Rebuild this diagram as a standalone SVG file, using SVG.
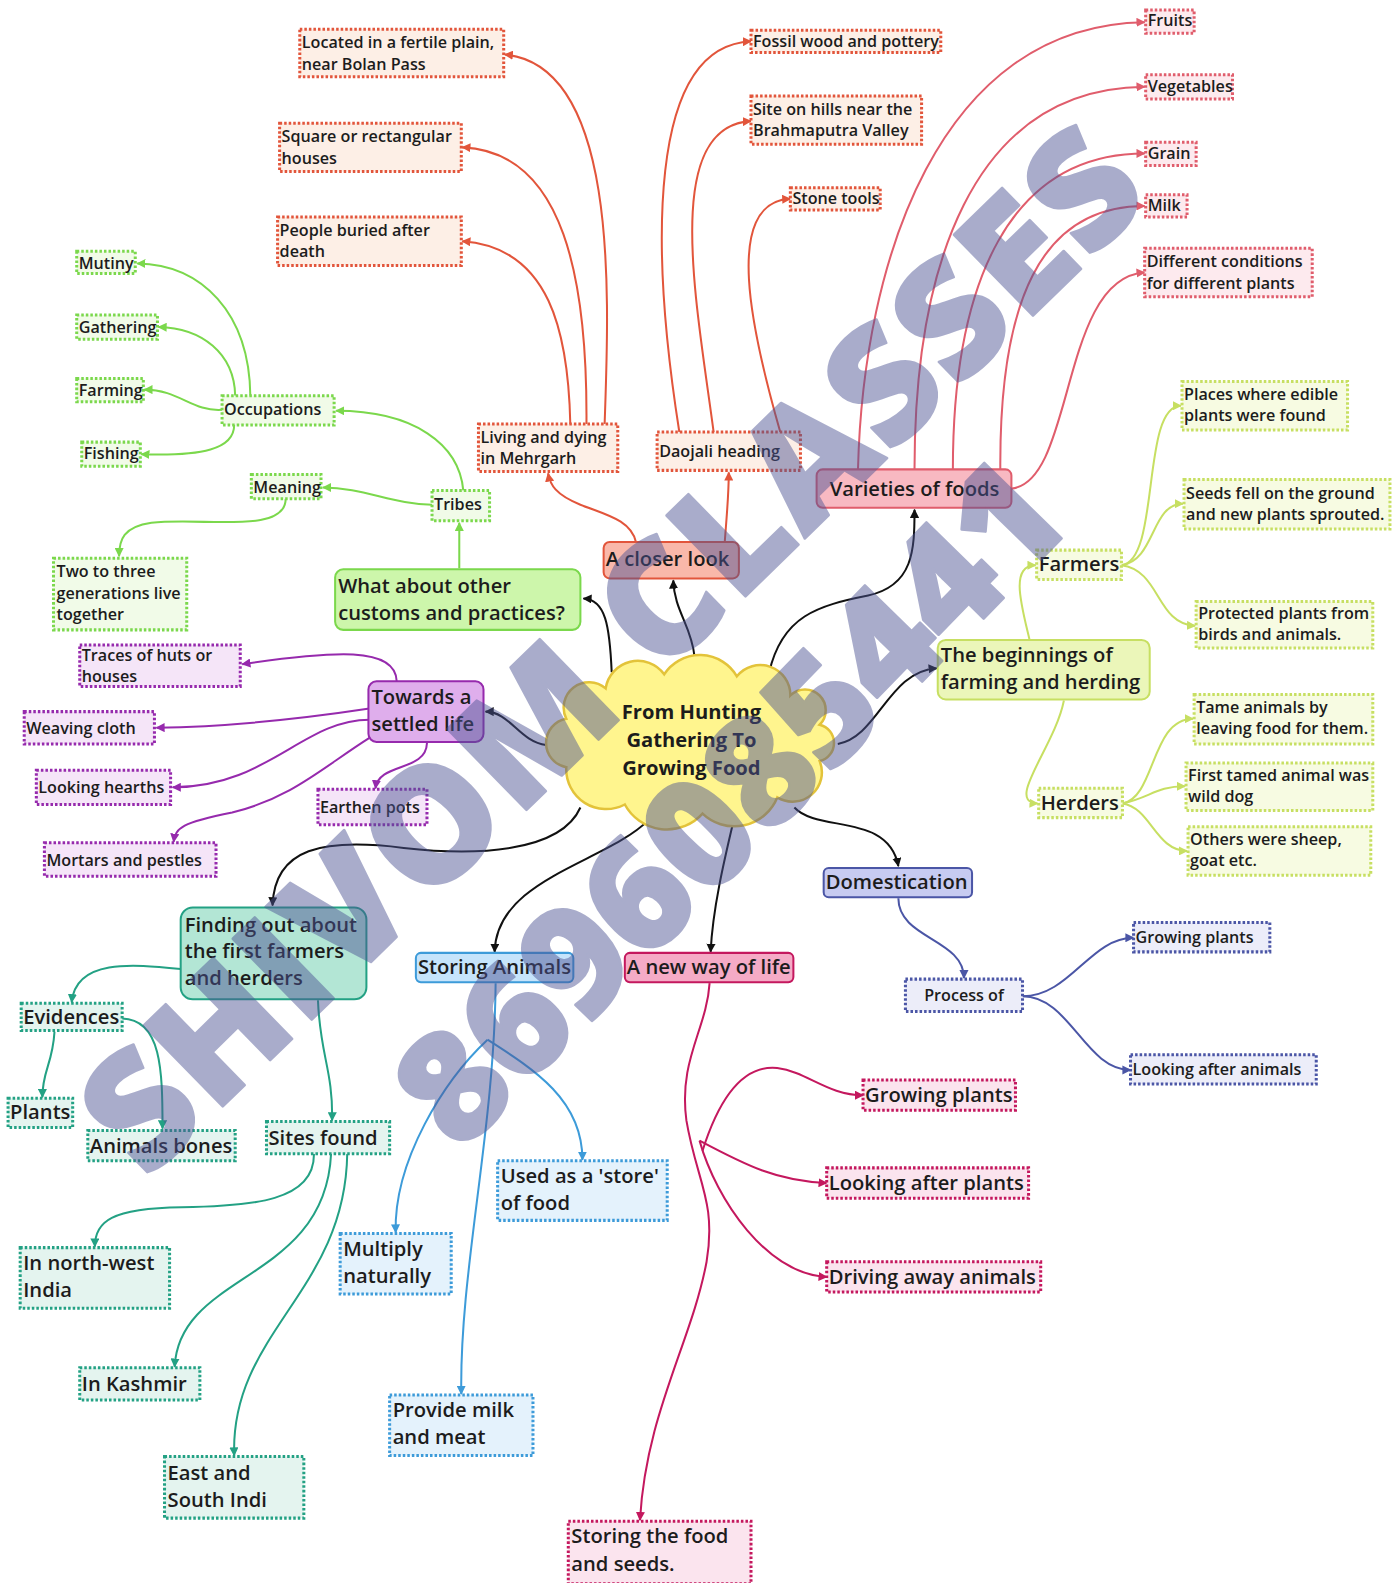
<svg xmlns="http://www.w3.org/2000/svg" width="1399" height="1583" viewBox="0 0 1399 1583">
<defs>
<style>
text{font-family:"Open Sans","Noto Sans","Liberation Sans",sans-serif;font-weight:600;fill:#1c1c1c}
.s16{font-size:16px}
.s20{font-size:20px}
.c{text-anchor:middle}
.lf rect{stroke-width:3;stroke-dasharray:2.5 2}
.l1 rect{stroke-width:2}
.R rect{fill:#fdefe6;stroke:#e2553b}
.P rect{fill:#fdeaee;stroke:#e05d6c}
.G rect{fill:#f1fbe8;stroke:#7bd84c}
.Y rect{fill:#f7fbe2;stroke:#c7df62}
.U rect{fill:#f5e5f8;stroke:#962aad}
.T rect{fill:#e4f4ef;stroke:#23a184}
.B rect{fill:#e4f2fc;stroke:#3d9bd9}
.M rect{fill:#fbe4ee;stroke:#c4185e}
.N rect{fill:#ecedf9;stroke:#4b56a6}
#conn path{fill:none;stroke-width:2}
.k{stroke:#111}
.r{stroke:#e2553b}
.p{stroke:#e05d6c}
.g{stroke:#7bd84c}
.y{stroke:#c7df62}
.u{stroke:#962aad}
.t{stroke:#23a184}
.b{stroke:#3d9bd9}
.m{stroke:#c4185e}
.n{stroke:#4b56a6}
#watermark{opacity:0.48}
.wm{font-family:"Open Sans","Liberation Sans",Arial,sans-serif;font-weight:800;fill:#4d5494;stroke:#4d5494;stroke-width:2.5;stroke-linejoin:round}
</style>
<marker id="ak" viewBox="0 0 10 10" refX="9" refY="5" markerWidth="9" markerHeight="9" markerUnits="userSpaceOnUse" orient="auto"><path d="M0,0L10,5L0,10z" fill="#111"/></marker>
<marker id="ar" viewBox="0 0 10 10" refX="9" refY="5" markerWidth="9" markerHeight="9" markerUnits="userSpaceOnUse" orient="auto"><path d="M0,0L10,5L0,10z" fill="#e2553b"/></marker>
<marker id="ap" viewBox="0 0 10 10" refX="9" refY="5" markerWidth="9" markerHeight="9" markerUnits="userSpaceOnUse" orient="auto"><path d="M0,0L10,5L0,10z" fill="#e05d6c"/></marker>
<marker id="ag" viewBox="0 0 10 10" refX="9" refY="5" markerWidth="9" markerHeight="9" markerUnits="userSpaceOnUse" orient="auto"><path d="M0,0L10,5L0,10z" fill="#7bd84c"/></marker>
<marker id="ay" viewBox="0 0 10 10" refX="9" refY="5" markerWidth="9" markerHeight="9" markerUnits="userSpaceOnUse" orient="auto"><path d="M0,0L10,5L0,10z" fill="#c7df62"/></marker>
<marker id="au" viewBox="0 0 10 10" refX="9" refY="5" markerWidth="9" markerHeight="9" markerUnits="userSpaceOnUse" orient="auto"><path d="M0,0L10,5L0,10z" fill="#962aad"/></marker>
<marker id="at" viewBox="0 0 10 10" refX="9" refY="5" markerWidth="9" markerHeight="9" markerUnits="userSpaceOnUse" orient="auto"><path d="M0,0L10,5L0,10z" fill="#23a184"/></marker>
<marker id="ab" viewBox="0 0 10 10" refX="9" refY="5" markerWidth="9" markerHeight="9" markerUnits="userSpaceOnUse" orient="auto"><path d="M0,0L10,5L0,10z" fill="#3d9bd9"/></marker>
<marker id="am" viewBox="0 0 10 10" refX="9" refY="5" markerWidth="9" markerHeight="9" markerUnits="userSpaceOnUse" orient="auto"><path d="M0,0L10,5L0,10z" fill="#c4185e"/></marker>
<marker id="an" viewBox="0 0 10 10" refX="9" refY="5" markerWidth="9" markerHeight="9" markerUnits="userSpaceOnUse" orient="auto"><path d="M0,0L10,5L0,10z" fill="#4b56a6"/></marker>
</defs>
<rect width="1399" height="1583" fill="#fff"/>
<g transform="scale(1.0094)">
<g id="conn">
<path class="k" marker-end="url(#ak)" d="M606,666 C604,620 600,594 578,593"/>
<path class="k" marker-end="url(#ak)" d="M688,650 C685,620 668,605 667,575"/>
<path class="k" marker-end="url(#ak)" d="M762,666 C775,610 810,600 860,590 C905,580 906,545 906,505"/>
<path class="k" marker-end="url(#ak)" d="M830,737 C870,730 880,665 928,662"/>
<path class="k" marker-end="url(#ak)" d="M541,738 C515,735 505,705 481,705"/>
<path class="k" marker-end="url(#ak)" d="M575,800 C555,845 470,848 400,840 C320,830 272,840 270,897"/>
<path class="k" marker-end="url(#ak)" d="M643,812 C600,855 492,870 490,943"/>
<path class="k" marker-end="url(#ak)" d="M727,812 C718,850 706,900 704,943"/>
<path class="k" marker-end="url(#ak)" d="M787,800 C810,825 880,805 890,858"/>
<path class="r" marker-end="url(#ar)" d="M630,537 C625,515 600,510 575,500 C550,490 545,480 543,469"/>
<path class="r" marker-end="url(#ar)" d="M718,537 C720,510 722,490 722,468"/>
<path class="r" marker-end="url(#ar)" d="M599,420 C603,300 615,65 500,54"/>
<path class="r" marker-end="url(#ar)" d="M581,420 C582,280 560,150 458,146"/>
<path class="r" marker-end="url(#ar)" d="M565,420 C563,330 545,245 458,239"/>
<path class="r" marker-end="url(#ar)" d="M673,428 C645,250 640,45 744,41"/>
<path class="r" marker-end="url(#ar)" d="M707,428 C690,300 655,125 744,120"/>
<path class="r" marker-end="url(#ar)" d="M773,428 C745,330 715,200 783,197"/>
<path class="p" marker-end="url(#ap)" d="M850,465 C855,260 930,25 1134,22"/>
<path class="p" marker-end="url(#ap)" d="M906,465 C906,270 960,88 1134,86"/>
<path class="p" marker-end="url(#ap)" d="M944,465 C944,280 1000,152 1134,152"/>
<path class="p" marker-end="url(#ap)" d="M991,465 C990,300 1030,204 1134,204"/>
<path class="p" marker-end="url(#ap)" d="M1002,484 C1065,478 1050,275 1134,270"/>
<path class="g" marker-end="url(#ag)" d="M455,563 L455,518"/>
<path class="g" marker-end="url(#ag)" d="M459,486 C455,440 410,407 333,407"/>
<path class="g" marker-end="url(#ag)" d="M428,500 C390,500 360,483 320,483"/>
<path class="g" marker-end="url(#ag)" d="M283,494 C283,530 200,512 150,518 C122,522 118,535 118,551"/>
<path class="g" marker-end="url(#ag)" d="M248,392 C247,310 200,262 136,261"/>
<path class="g" marker-end="url(#ag)" d="M233,392 C232,350 200,325 157,324"/>
<path class="g" marker-end="url(#ag)" d="M220,406 C190,408 178,386 143,386"/>
<path class="g" marker-end="url(#ag)" d="M232,421 C232,445 200,452 140,450"/>
<path class="u" marker-end="url(#au)" d="M393,675 C392,640 330,645 240,658"/>
<path class="u" marker-end="url(#au)" d="M366,702 C300,712 220,720 155,721"/>
<path class="u" marker-end="url(#au)" d="M366,713 C300,713 265,780 171,780"/>
<path class="u" marker-end="url(#au)" d="M366,731 C320,760 290,790 230,805 C180,815 174,820 172,834"/>
<path class="u" marker-end="url(#au)" d="M423,736 C422,765 375,755 372,781"/>
<path class="y" marker-end="url(#ay)" d="M1020,634 C1012,600 1000,560 1026,560"/>
<path class="y" marker-end="url(#ay)" d="M1054,694 C1045,740 995,795 1028,796"/>
<path class="y" marker-end="url(#ay)" d="M1111,560 C1150,555 1130,402 1170,402"/>
<path class="y" marker-end="url(#ay)" d="M1111,560 C1145,555 1140,499 1172,499"/>
<path class="y" marker-end="url(#ay)" d="M1111,560 C1150,565 1145,618 1184,620"/>
<path class="y" marker-end="url(#ay)" d="M1112,796 C1145,790 1140,712 1182,712"/>
<path class="y" marker-end="url(#ay)" d="M1112,796 C1140,790 1145,779 1174,779"/>
<path class="y" marker-end="url(#ay)" d="M1112,796 C1140,800 1145,843 1176,843"/>
<path class="t" marker-end="url(#at)" d="M179,960 C130,955 75,950 71,993"/>
<path class="t" marker-end="url(#at)" d="M315,991 C317,1045 330,1060 329,1110"/>
<path class="t" marker-end="url(#at)" d="M54,1022 C52,1055 42,1060 42,1087"/>
<path class="t" marker-end="url(#at)" d="M121,1009 C160,1010 161,1060 161,1118"/>
<path class="t" marker-end="url(#at)" d="M311,1143 C312,1190 250,1195 180,1196 C110,1197 94,1210 94,1235"/>
<path class="t" marker-end="url(#at)" d="M328,1143 C322,1270 178,1260 173,1354"/>
<path class="t" marker-end="url(#at)" d="M344,1143 C342,1280 228,1320 232,1442"/>
<path class="b" marker-end="url(#ab)" d="M491,974 C490,1120 455,1260 457,1381"/>
<path class="b" marker-end="url(#ab)" d="M483,1030 C440,1070 390,1150 392,1221"/>
<path class="b" marker-end="url(#ab)" d="M483,1030 C530,1060 577,1090 577,1149"/>
<path class="m" marker-end="url(#am)" d="M703,974 C700,1020 672,1050 680,1110 C690,1170 710,1190 700,1250 C685,1330 640,1400 634,1506"/>
<path class="m" marker-end="url(#am)" d="M696,1140 C715,1080 740,1055 770,1058 C800,1062 820,1085 855,1085"/>
<path class="m" marker-end="url(#am)" d="M693,1130 C740,1155 770,1170 819,1172"/>
<path class="m" marker-end="url(#am)" d="M693,1130 C710,1190 760,1262 819,1265"/>
<path class="n" marker-end="url(#an)" d="M890,890 C890,930 955,930 955,969"/>
<path class="n" marker-end="url(#an)" d="M1013,987 C1060,987 1080,929 1123,929"/>
<path class="n" marker-end="url(#an)" d="M1013,987 C1060,987 1075,1060 1120,1060"/>
</g>

<g id="center"><path d="M561,712 A25.1,25.1 0 0 1 600,682 A32.3,32.3 0 0 1 658,668 A42.4,42.4 0 0 1 730,670 A29.8,29.8 0 0 1 783,689 A20.5,20.5 0 0 1 812,718 A18.5,18.5 0 0 1 812,754 A29.1,29.1 0 0 1 770,790 A45.8,45.8 0 0 1 696,806 A47.5,47.5 0 0 1 619,797 A39.6,39.6 0 0 1 561,760 A24.4,24.4 0 0 1 561,712 Z" fill="#fff58e" stroke="#e3c33a" stroke-width="2.5"/>
<text class="s20 c" x="685" y="712" style="font-weight:700">From Hunting</text><text class="s20 c" x="685" y="740" style="font-weight:700">Gathering To</text><text class="s20 c" x="685" y="768" style="font-weight:700">Growing Food</text></g>

<g id="closer" class="l1 R"><rect x="598" y="537" width="134" height="36" rx="6" style="fill:#f9b8aa"/><text class="s20" x="600" y="561">A closer look</text></g>
<g id="varieties" class="l1 P"><rect x="809" y="465" width="193" height="38" rx="6" style="fill:#f8b9c2"/><text class="s20 c" x="906" y="491">Varieties of foods</text></g>
<g id="customs" class="l1 G"><rect x="332" y="564" width="243" height="60" rx="8" style="fill:#cdf6ab"/><text class="s20" x="335" y="587">What about other</text><text class="s20" x="335" y="614">customs and practices?</text></g>
<g id="beginnings" class="l1 Y"><rect x="929" y="634" width="210" height="59" rx="8" style="fill:#ebf6b9"/><text class="s20" x="932" y="656">The beginnings of</text><text class="s20" x="932" y="683">farming and herding</text></g>
<g id="settled" class="l1 U"><rect x="365" y="675" width="114" height="60" rx="8" style="fill:#dfaeec"/><text class="s20" x="368" y="697">Towards a</text><text class="s20" x="368" y="724">settled life</text></g>
<g id="finding" class="l1 T"><rect x="179" y="899" width="184" height="91" rx="12" style="fill:#b3e6d5"/><text class="s20" x="183" y="923">Finding out about</text><text class="s20" x="183" y="949">the first farmers</text><text class="s20" x="183" y="976">and herders</text></g>
<g id="storing" class="l1 B"><rect x="412" y="944" width="156" height="29" rx="5" style="fill:#c6e4fb"/><text class="s20" x="414" y="965">Storing Animals</text></g>
<g id="newway" class="l1 M"><rect x="619" y="944" width="167" height="29" rx="5" style="fill:#f5abc6"/><text class="s20" x="621" y="965">A new way of life</text></g>
<g id="domestication" class="l1 N"><rect x="816" y="860" width="147" height="29" rx="5" style="fill:#c7cbf1"/><text class="s20" x="818" y="881">Domestication</text></g>

<g id="living" class="lf R"><rect x="474" y="420" width="138" height="47"/><text class="s16" x="476" y="439">Living and dying</text><text class="s16" x="476" y="460">in Mehrgarh</text></g>
<g id="daojali" class="lf R"><rect x="651" y="428" width="142" height="38"/><text class="s16" x="653" y="453">Daojali heading</text></g>
<g id="located" class="lf R"><rect x="297" y="29" width="202" height="47"/><text class="s16" x="299" y="48">Located in a fertile plain,</text><text class="s16" x="299" y="69">near Bolan Pass</text></g>
<g id="square" class="lf R"><rect x="277" y="122" width="180" height="48"/><text class="s16" x="279" y="141">Square or rectangular</text><text class="s16" x="279" y="162">houses</text></g>
<g id="buried" class="lf R"><rect x="275" y="215" width="182" height="48"/><text class="s16" x="277" y="234">People buried after</text><text class="s16" x="277" y="255">death</text></g>
<g id="fossil" class="lf R"><rect x="744" y="30" width="188" height="22"/><text class="s16" x="746" y="47">Fossil wood and pottery</text></g>
<g id="site" class="lf R"><rect x="744" y="95" width="169" height="48"/><text class="s16" x="746" y="114">Site on hills near the</text><text class="s16" x="746" y="135">Brahmaputra Valley</text></g>
<g id="stone" class="lf R"><rect x="783" y="186" width="89" height="22"/><text class="s16" x="785" y="202">Stone tools</text></g>

<g id="fruits" class="lf P"><rect x="1135" y="10" width="48" height="23"/><text class="s16" x="1137" y="26">Fruits</text></g>
<g id="vegetables" class="lf P"><rect x="1135" y="74" width="86" height="24"/><text class="s16" x="1137" y="91">Vegetables</text></g>
<g id="grain" class="lf P"><rect x="1135" y="141" width="50" height="23"/><text class="s16" x="1137" y="158">Grain</text></g>
<g id="milk" class="lf P"><rect x="1135" y="193" width="41" height="22"/><text class="s16" x="1137" y="209">Milk</text></g>
<g id="different" class="lf P"><rect x="1134" y="246" width="166" height="48"/><text class="s16" x="1136" y="265">Different conditions</text><text class="s16" x="1136" y="286">for different plants</text></g>

<g id="tribes" class="lf G"><rect x="428" y="486" width="57" height="30"/><text class="s16" x="430" y="505">Tribes</text></g>
<g id="occupations" class="lf G"><rect x="220" y="392" width="111" height="29"/><text class="s16" x="222" y="411">Occupations</text></g>
<g id="meaning" class="lf G"><rect x="249" y="470" width="69" height="24"/><text class="s16" x="251" y="488">Meaning</text></g>
<g id="mutiny" class="lf G"><rect x="76" y="249" width="58" height="22"/><text class="s16" x="78" y="266">Mutiny</text></g>
<g id="gathering" class="lf G"><rect x="76" y="312" width="80" height="24"/><text class="s16" x="78" y="330">Gathering</text></g>
<g id="farming" class="lf G"><rect x="76" y="375" width="66" height="23"/><text class="s16" x="78" y="392">Farming</text></g>
<g id="fishing" class="lf G"><rect x="81" y="438" width="58" height="24"/><text class="s16" x="83" y="455">Fishing</text></g>
<g id="twothree" class="lf G"><rect x="53" y="553" width="132" height="71"/><text class="s16" x="56" y="572">Two to three</text><text class="s16" x="56" y="593">generations live</text><text class="s16" x="56" y="614">together</text></g>

<g id="farmers" class="lf Y"><rect x="1027" y="545" width="84" height="29"/><text class="s20" x="1029" y="566">Farmers</text></g>
<g id="herders" class="lf Y"><rect x="1029" y="781" width="83" height="29"/><text class="s20" x="1031" y="802">Herders</text></g>
<g id="places" class="lf Y"><rect x="1171" y="378" width="164" height="48"/><text class="s16" x="1173" y="396">Places where edible</text><text class="s16" x="1173" y="417">plants were found</text></g>
<g id="seeds" class="lf Y"><rect x="1173" y="475" width="204" height="49"/><text class="s16" x="1175" y="494">Seeds fell on the ground</text><text class="s16" x="1175" y="515">and new plants sprouted.</text></g>
<g id="protected" class="lf Y"><rect x="1185" y="596" width="175" height="46"/><text class="s16" x="1187" y="613">Protected plants from</text><text class="s16" x="1187" y="634">birds and animals.</text></g>
<g id="tame" class="lf Y"><rect x="1183" y="688" width="177" height="49"/><text class="s16" x="1185" y="706">Tame animals by</text><text class="s16" x="1185" y="727">leaving food for them.</text></g>
<g id="firstdog" class="lf Y"><rect x="1175" y="756" width="185" height="47"/><text class="s16" x="1177" y="774">First tamed animal was</text><text class="s16" x="1177" y="795">wild dog</text></g>
<g id="others" class="lf Y"><rect x="1177" y="819" width="181" height="48"/><text class="s16" x="1179" y="837">Others were sheep,</text><text class="s16" x="1179" y="858">goat etc.</text></g>

<g id="traces" class="lf U"><rect x="79" y="639" width="159" height="41"/><text class="s16" x="81" y="655">Traces of huts or</text><text class="s16" x="81" y="676">houses</text></g>
<g id="weaving" class="lf U"><rect x="24" y="705" width="129" height="32"/><text class="s16" x="26" y="727">Weaving cloth</text></g>
<g id="hearths" class="lf U"><rect x="36" y="763" width="133" height="34"/><text class="s16" x="38" y="786">Looking hearths</text></g>
<g id="earthen" class="lf U"><rect x="315" y="782" width="108" height="35"/><text class="s16" x="317" y="805">Earthen pots</text></g>
<g id="mortars" class="lf U"><rect x="44" y="835" width="170" height="33"/><text class="s16" x="46" y="858">Mortars and pestles</text></g>

<g id="evidences" class="lf T"><rect x="21" y="994" width="100" height="27"/><text class="s20" x="23" y="1014">Evidences</text></g>
<g id="plants" class="lf T"><rect x="8" y="1088" width="64" height="29"/><text class="s20" x="10" y="1109">Plants</text></g>
<g id="bones" class="lf T"><rect x="87" y="1120" width="146" height="30"/><text class="s20" x="89" y="1142">Animals bones</text></g>
<g id="sites" class="lf T"><rect x="264" y="1111" width="122" height="32"/><text class="s20" x="266" y="1134">Sites found</text></g>
<g id="northwest" class="lf T"><rect x="20" y="1236" width="148" height="60"/><text class="s20" x="23" y="1258">In north-west</text><text class="s20" x="23" y="1285">India</text></g>
<g id="kashmir" class="lf T"><rect x="79" y="1355" width="119" height="32"/><text class="s20" x="81" y="1378">In Kashmir</text></g>
<g id="east" class="lf T"><rect x="163" y="1443" width="138" height="61"/><text class="s20" x="166" y="1466">East and</text><text class="s20" x="166" y="1493">South Indi</text></g>

<g id="store" class="lf B"><rect x="493" y="1150" width="168" height="59"/><text class="s20" x="496" y="1172">Used as a 'store'</text><text class="s20" x="496" y="1199">of food</text></g>
<g id="multiply" class="lf B"><rect x="337" y="1222" width="110" height="60"/><text class="s20" x="340" y="1244">Multiply</text><text class="s20" x="340" y="1271">naturally</text></g>
<g id="milkmeat" class="lf B"><rect x="386" y="1382" width="142" height="60"/><text class="s20" x="389" y="1404">Provide milk</text><text class="s20" x="389" y="1431">and meat</text></g>

<g id="growing" class="lf M"><rect x="855" y="1070" width="151" height="30"/><text class="s20" x="857" y="1092">Growing plants</text></g>
<g id="lookplants" class="lf M"><rect x="819" y="1157" width="200" height="30"/><text class="s20" x="821" y="1179">Looking after plants</text></g>
<g id="driving" class="lf M"><rect x="819" y="1250" width="212" height="30"/><text class="s20" x="821" y="1272">Driving away animals</text></g>
<g id="storingfood" class="lf M"><rect x="563" y="1507" width="181" height="62"/><text class="s20" x="566" y="1529">Storing the food</text><text class="s20" x="566" y="1556">and seeds.</text></g>

<g id="process" class="lf N"><rect x="897" y="970" width="116" height="32"/><text class="s16 c" x="955" y="992">Process of</text></g>
<g id="growing2" class="lf N"><rect x="1123" y="914" width="135" height="29"/><text class="s16" x="1125" y="934">Growing plants</text></g>
<g id="lookanimals" class="lf N"><rect x="1120" y="1045" width="184" height="29"/><text class="s16" x="1122" y="1065">Looking after animals</text></g>

<g id="watermark">
<text class="wm" x="145" y="1170" font-size="157" textLength="1395" lengthAdjust="spacing" transform="rotate(-44.3 145 1170)">SHIVOM CLASSES</text>
<text class="wm" x="456" y="1144" font-size="150" textLength="872" lengthAdjust="spacing" transform="rotate(-45.7 456 1144)">8696085441</text>
</g>
</g>
</svg>
